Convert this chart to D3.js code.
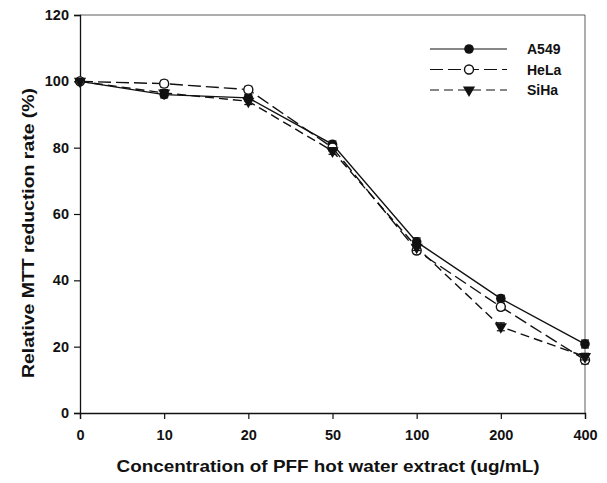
<!doctype html>
<html>
<head>
<meta charset="utf-8">
<script src="https://d3js.org/d3.v7.min.js"></script>
<style>
  body { margin: 0; background: #fff; }
  text { font-family: "Liberation Sans", Arial, sans-serif; font-weight: bold; fill: #111; }
</style>
</head>
<body>
<svg id="chart"></svg>
<script>
// concentrations (ug/mL), plotted as evenly spaced categories
var doses = ["0", "10", "20", "50", "100", "200", "400"];
var yTicks = [0, 20, 40, 60, 80, 100, 120];

var a549 = [100, 96, 95, 81, 51.6, 34.5, 20.8];
var hela = [100, 99.3, 97.5, 80, 49, 32, 16];
var siha = [100, 96.5, 94, 79, 50, 26, 17];

var a549Err = [0.5, 1, 1, 1, 1.2, 1, 1.2];
var helaErr = [0.5, 1, 1, 1, 1, 1, 1.2];
var sihaErr = [0.5, 1, 1, 1, 1, 1.2, 1];

var seriesNames = ["A549", "HeLa", "SiHa"];

var width = 607, height = 483;
var margin = { left: 80, right: 22, top: 15, bottom: 70 };

var svg = d3.select("#chart").attr("width", width).attr("height", height);

var x = d3.scalePoint()
  .domain(doses)
  .range([margin.left, width - margin.right]);

var y = d3.scaleLinear()
  .domain([0, 120])
  .range([height - margin.bottom, margin.top]);

// frame top & right
svg.append("line")
  .attr("x1", margin.left).attr("x2", width - margin.right)
  .attr("y1", y(120)).attr("y2", y(120))
  .attr("stroke", "#333").attr("stroke-width", 0.8);
svg.append("line")
  .attr("x1", width - margin.right).attr("x2", width - margin.right)
  .attr("y1", y(120)).attr("y2", y(0))
  .attr("stroke", "#333").attr("stroke-width", 0.8);

var xAxis = svg.append("g")
  .attr("transform", "translate(0," + y(0) + ")")
  .call(d3.axisBottom(x).tickSizeOuter(0).tickSize(6).tickPadding(11));
var yAxis = svg.append("g")
  .attr("transform", "translate(" + margin.left + ",0)")
  .call(d3.axisLeft(y).tickValues(yTicks).tickSizeOuter(0).tickSize(6).tickPadding(5));

[xAxis, yAxis].forEach(function(ax) {
  ax.select(".domain").attr("stroke", "#111").attr("stroke-width", 1.3);
  ax.selectAll(".tick line").attr("stroke", "#111").attr("stroke-width", 1.2);
  ax.selectAll(".tick text")
    .style("font-family", "'Liberation Sans', Arial, sans-serif")
    .style("font-weight", "bold")
    .style("font-size", "14.5px")
    .attr("fill", "#111");
});

// axis titles
svg.append("text")
  .attr("x", 328)
  .attr("y", 472)
  .attr("text-anchor", "middle")
  .attr("textLength", 423)
  .attr("lengthAdjust", "spacingAndGlyphs")
  .style("font-size", "17px")
  .text("Concentration of PFF hot water extract (ug/mL)");

svg.append("text")
  .attr("transform", "translate(34,233) rotate(-90)")
  .attr("text-anchor", "middle")
  .attr("textLength", 290)
  .attr("lengthAdjust", "spacingAndGlyphs")
  .style("font-size", "17px")
  .text("Relative MTT reduction rate (%)");

var series = [
  { name: seriesNames[0], values: a549, err: a549Err, dash: null, marker: "filled" },
  { name: seriesNames[1], values: hela, err: helaErr, dash: "13,5", marker: "open" },
  { name: seriesNames[2], values: siha, err: sihaErr, dash: "9,5", marker: "tri" }
];

var line = d3.line()
  .x(function(d, i) { return x(doses[i]); })
  .y(function(d) { return y(d); });

function drawMarker(g, type, cx, cy) {
  if (type === "filled") {
    g.append("circle").attr("cx", cx).attr("cy", cy).attr("r", 4.8).attr("fill", "#111");
  } else if (type === "open") {
    g.append("circle").attr("cx", cx).attr("cy", cy).attr("r", 4.5)
      .attr("fill", "#fff").attr("stroke", "#111").attr("stroke-width", 1.4);
  } else {
    g.append("path")
      .attr("d", d3.symbol().type(d3.symbolTriangle).size(64))
      .attr("transform", "translate(" + cx + "," + cy + ") rotate(180)")
      .attr("fill", "#111");
  }
}

series.forEach(function(s) {
  svg.append("path")
    .datum(s.values)
    .attr("d", line)
    .attr("fill", "none")
    .attr("stroke", "#111")
    .attr("stroke-width", 1.4)
    .attr("stroke-dasharray", s.dash);
});

series.forEach(function(s) {
  var g = svg.append("g");
  s.values.forEach(function(v, i) {
    var cx = x(doses[i]);
    g.append("line")
      .attr("x1", cx).attr("x2", cx)
      .attr("y1", y(v - s.err[i])).attr("y2", y(v + s.err[i]))
      .attr("stroke", "#111").attr("stroke-width", 1.2);
    [v - s.err[i], v + s.err[i]].forEach(function(e) {
      g.append("line")
        .attr("x1", cx - 4).attr("x2", cx + 4)
        .attr("y1", y(e)).attr("y2", y(e))
        .attr("stroke", "#111").attr("stroke-width", 1.2);
    });
    drawMarker(g, s.marker, cx, y(v));
  });
});

// legend
var legend = svg.append("g").attr("transform", "translate(430,49)");
series.forEach(function(s, i) {
  var ly = i * 20.5;
  legend.append("line")
    .attr("x1", 0).attr("x2", 77)
    .attr("y1", ly).attr("y2", ly)
    .attr("stroke", "#111").attr("stroke-width", 1.2)
    .attr("stroke-dasharray", s.dash);
  drawMarker(legend, s.marker, 39, ly);
  legend.append("text")
    .attr("x", 97).attr("y", ly + 5)
    .style("font-size", "14px")
    .text(s.name);
});
</script>
</body>
</html>
